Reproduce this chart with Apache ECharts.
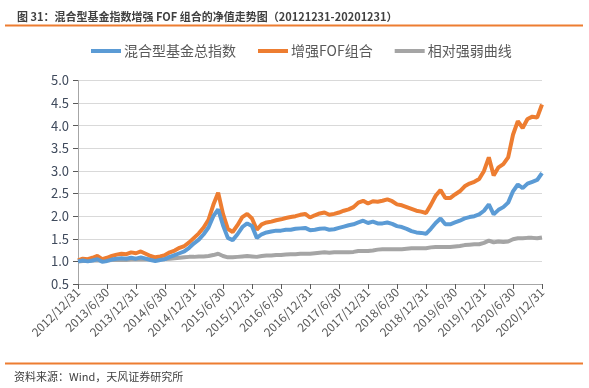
<!DOCTYPE html>
<html><head><meta charset="utf-8">
<script src="https://cdn.jsdelivr.net/npm/echarts@6/dist/echarts.min.js"></script>
<style>html,body{margin:0;padding:0;background:#fff;}#c{width:589px;height:388px;}</style>
</head><body><div id="c"></div>
<script>
var titleText = '图 31：混合型基金指数增强 FOF 组合的净值走势图（20121231-20201231）';
var sourceText = '资料来源：Wind，天风证券研究所';
var seriesNames = ['混合型基金总指数', '增强FOF组合', '相对强弱曲线'];
var startYear = 2012, startMonth = 12, monthCount = 97;

var mixedIndex = [1.00,1.02,1.00,1.02,1.05,0.99,1.01,1.04,1.06,1.07,1.06,1.08,1.06,
1.09,1.06,1.03,1.01,1.03,1.05,1.10,1.14,1.18,1.22,1.30,1.40,
1.48,1.60,1.75,2.00,2.15,1.80,1.52,1.47,1.60,1.76,1.84,1.78,
1.52,1.60,1.64,1.66,1.68,1.68,1.70,1.70,1.72,1.73,1.74,1.69,
1.70,1.72,1.73,1.70,1.71,1.74,1.77,1.80,1.82,1.86,1.90,1.85,
1.88,1.84,1.84,1.86,1.83,1.78,1.76,1.72,1.67,1.64,1.63,1.61,
1.72,1.85,1.95,1.82,1.82,1.86,1.90,1.95,1.98,2.00,2.04,2.12,
2.26,2.04,2.14,2.20,2.30,2.55,2.70,2.62,2.72,2.76,2.80,2.95];

var fofValues = [1.02,1.06,1.05,1.08,1.12,1.05,1.08,1.12,1.15,1.17,1.16,1.20,1.18,
1.22,1.17,1.12,1.09,1.11,1.14,1.20,1.24,1.30,1.34,1.42,1.52,
1.62,1.75,1.92,2.25,2.52,2.05,1.72,1.65,1.80,1.98,2.05,1.95,
1.70,1.82,1.86,1.88,1.91,1.93,1.96,1.98,2.00,2.03,2.05,1.97,
2.02,2.06,2.08,2.03,2.05,2.08,2.12,2.15,2.20,2.30,2.34,2.28,
2.33,2.32,2.34,2.37,2.33,2.26,2.24,2.20,2.16,2.12,2.10,2.07,
2.25,2.45,2.58,2.40,2.40,2.48,2.55,2.66,2.72,2.76,2.82,3.00,
3.30,2.90,3.08,3.15,3.30,3.80,4.10,3.95,4.15,4.20,4.18,4.47];

var relValues = [1.00,1.01,1.01,1.02,1.02,1.02,1.02,1.03,1.03,1.03,1.03,1.04,1.04,
1.04,1.04,1.04,1.05,1.05,1.05,1.06,1.07,1.08,1.09,1.10,1.10,
1.11,1.11,1.12,1.14,1.17,1.12,1.09,1.09,1.10,1.11,1.12,1.11,
1.10,1.12,1.13,1.13,1.14,1.14,1.15,1.16,1.16,1.17,1.17,1.17,
1.18,1.19,1.20,1.19,1.20,1.20,1.20,1.20,1.21,1.23,1.23,1.23,
1.24,1.26,1.27,1.27,1.27,1.27,1.27,1.28,1.29,1.29,1.29,1.29,
1.31,1.32,1.32,1.32,1.32,1.33,1.34,1.36,1.37,1.38,1.38,1.41,
1.46,1.42,1.44,1.43,1.44,1.49,1.51,1.51,1.52,1.52,1.51,1.53];

function monthEnd(y, m) { return new Date(y, m, 0).getDate(); }
var categories = [];
for (var k = 0; k < monthCount; k++) {
  var mm = startMonth - 1 + k;
  var y = startYear + Math.floor(mm / 12);
  var m = (mm % 12) + 1;
  categories.push(y + '/' + m + '/' + monthEnd(y, m));
}

var chart = echarts.init(document.getElementById('c'), null, {renderer: 'canvas'});
var txt = '#595959';
var font = '"Noto Sans CJK SC", "Noto Sans", sans-serif';
chart.setOption({
  animation: false,
  textStyle: {fontFamily: font},
  color: ['#5B9BD5', '#ED7D31', '#A5A5A5'],
  title: {
    text: titleText, left: 12, top: 6,
    textStyle: {fontSize: 11, fontWeight: 'bold', color: '#404040', fontFamily: font}
  },
  graphic: [
    {type: 'line', shape: {x1: 5, y1: 25.5, x2: 583, y2: 25.5}, style: {stroke: '#ED7D31', lineWidth: 2}},
    {type: 'line', shape: {x1: 5, y1: 363.5, x2: 583, y2: 363.5}, style: {stroke: '#ED7D31', lineWidth: 2}},
    {type: 'text', x: 14, y: 371, style: {text: sourceText, fontSize: 11, fill: '#404040', fontFamily: font}}
  ],
  legend: {
    top: 39, left: 86, itemGap: 22, itemWidth: 30, itemHeight: 4,
    icon: 'rect',
    textStyle: {fontSize: 14, color: txt, fontFamily: font, padding: [0, 0, 0, -2]},
    data: seriesNames
  },
  grid: {left: 78, right: 47, top: 80.5, bottom: 104},
  xAxis: {
    type: 'category', data: categories, boundaryGap: false,
    axisLine: {lineStyle: {color: '#A6A6A6', width: 1}},
    axisTick: {interval: 5, length: 5, lineStyle: {color: '#595959'}},
    axisLabel: {interval: 5, rotate: 45, fontSize: 12, color: txt, margin: 6, fontFamily: font},
    splitLine: {show: false}
  },
  yAxis: {
    type: 'value', min: 0.5, max: 5.0, interval: 0.5,
    axisLine: {show: true, lineStyle: {color: '#A6A6A6'}},
    axisTick: {show: true, length: 5, lineStyle: {color: '#595959'}},
    axisLabel: {fontSize: 13, color: '#3F4A5C', margin: 9, formatter: function (v) { return v.toFixed(1); }},
    splitLine: {lineStyle: {color: '#D9D9D9', width: 1}}
  },
  series: [
    {name: seriesNames[0], type: 'line', data: mixedIndex, showSymbol: false, lineStyle: {width: 4}, z: 3},
    {name: seriesNames[1], type: 'line', data: fofValues, showSymbol: false, lineStyle: {width: 4}, z: 2},
    {name: seriesNames[2], type: 'line', data: relValues, showSymbol: false, lineStyle: {width: 4}, z: 1}
  ]
});
</script></body></html>
